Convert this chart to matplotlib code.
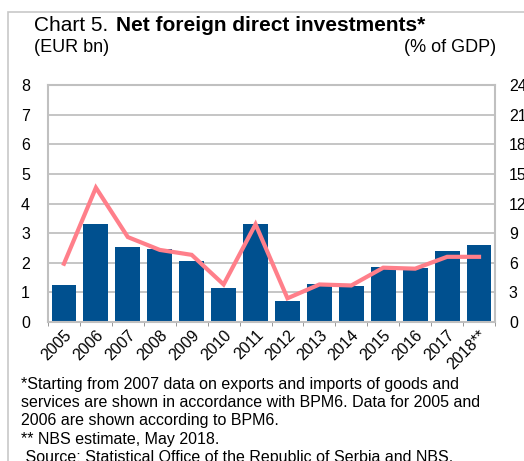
import numpy as np
import matplotlib.pyplot as plt
from matplotlib.patches import Rectangle

plt.rcParams['font.family'] = ['Liberation Sans', 'DejaVu Sans']

# data
years = ['2005', '2006', '2007', '2008', '2009', '2010', '2011', '2012',
         '2013', '2014', '2015', '2016', '2017', '2018**']
fdi_bn = [1.25, 3.32, 2.52, 2.48, 2.07, 1.14, 3.32, 0.72,
          1.28, 1.23, 1.86, 1.82, 2.41, 2.60]
fdi_gdp = [5.9, 13.6, 8.6, 7.3, 6.8, 3.8, 9.9, 2.4,
           3.8, 3.7, 5.5, 5.4, 6.6, 6.6]

bar_col = '#00508F'
line_col = '#FF7F8A'
grey = '#C0C0C0'

fig = plt.figure(figsize=(5.24, 4.61), dpi=100)

# outer frame (left and top edges visible)
fig.patches.append(Rectangle((8/524, -0.1), 1.2, 1 - 12/461 + 0.1,
                             transform=fig.transFigure, fill=False,
                             edgecolor='#C8C8C8', lw=1.2))

ax = fig.add_axes([48/524, 1 - 322/461, 447/524, 237/461])
x = np.arange(len(years))
ax.bar(x, fdi_bn, width=0.78, color=bar_col, zorder=2)
ax.set_xlim(-0.5, len(years) - 0.5)
ax.set_ylim(0, 8)
ax.set_yticks(range(0, 9))
ax.yaxis.grid(True, color=grey, lw=1.3, zorder=0)
ax.set_axisbelow(True)
for s in ax.spines.values():
    s.set_color(grey)
    s.set_linewidth(1.5)
ax.tick_params(axis='y', length=0, pad=13, labelsize=11.5)
ax.set_xticks(x)
ax.set_xticklabels(years, rotation=45, ha='right', rotation_mode='anchor', fontsize=11.5)
ax.tick_params(axis='x', length=0, pad=4)
ax.set_xticks(np.arange(-0.5, len(years)), minor=True)
ax.tick_params(axis='x', which='minor', length=3, color='#888888', width=0.6)

ax2 = ax.twinx()
ax2.plot(x, fdi_gdp, color=line_col, lw=3, solid_joinstyle='miter', zorder=3)
ax2.set_ylim(0, 24)
ax2.set_yticks(range(0, 25, 3))
ax2.tick_params(axis='y', length=0, pad=10, labelsize=11.5)
for s in ax2.spines.values():
    s.set_visible(False)

fig.text(34/524, 1 - 31/461, 'Chart 5.', fontsize=15, va='baseline')
fig.text(116/524, 1 - 31/461, 'Net foreign direct investments*', fontsize=15,
         fontweight='bold', va='baseline')
fig.text(34/524, 1 - 52/461, '(EUR bn)', fontsize=13, va='baseline')
fig.text(496/524, 1 - 52/461, '(% of GDP)', fontsize=13, va='baseline', ha='right')

notes = ['*Starting from 2007 data on exports and imports of goods and',
         'services are shown in accordance with BPM6. Data for 2005 and',
         '2006 are shown according to BPM6.',
         '** NBS estimate, May 2018.',
         ' Source: Statistical Office of the Republic of Serbia and NBS.']
for i, t in enumerate(notes):
    fig.text(21/524, 1 - (389 + i * 18.2)/461, t, fontsize=11.5, va='baseline')

fig.savefig('out.png', dpi=100)
